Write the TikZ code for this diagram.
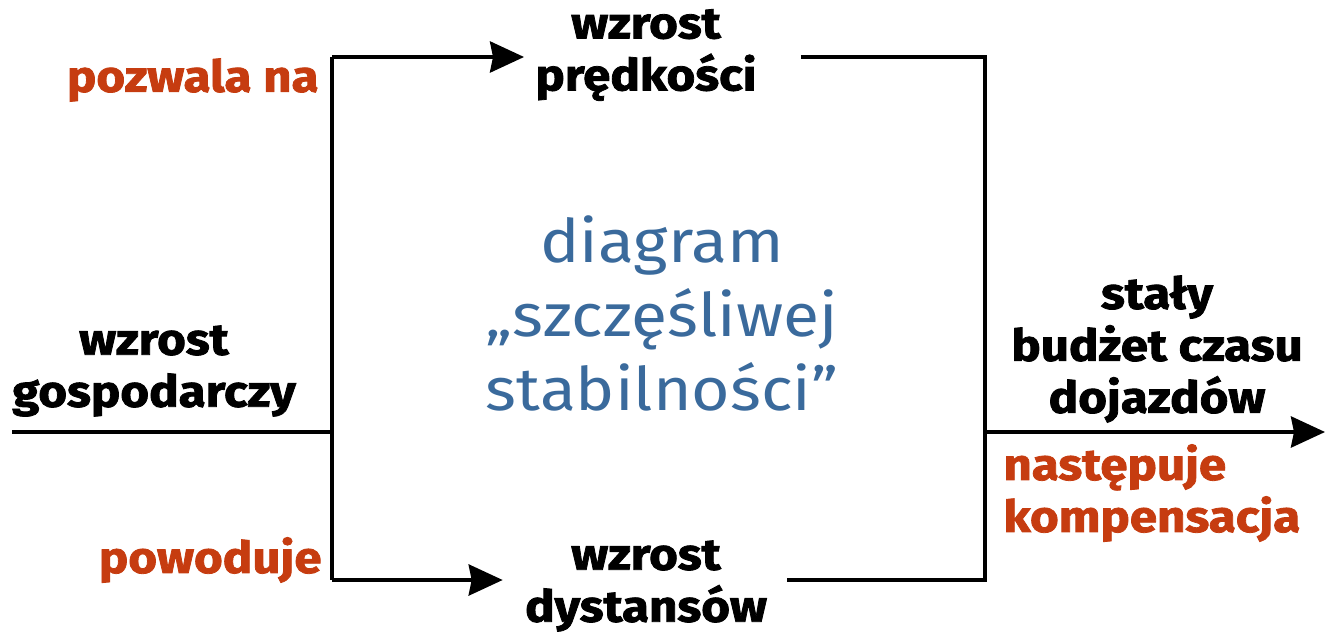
\documentclass[tikz,border=0pt]{standalone}
\usepackage{fontspec}
\setmainfont{Fira Sans}
\newfontfamily\heavy{Fira Sans}[BoldFeatures={FakeBold=1.8,FakeStretch=1.12}]
\newfontfamily\wide{Fira Sans}[FakeStretch=1.1]
\usetikzlibrary{arrows.meta}
\definecolor{orng}{HTML}{C63C10}
\definecolor{blu}{HTML}{3A6A9C}
\tikzset{
  lbl/.style={font=\heavy\bfseries\fontsize{22}{26}\selectfont, align=center, text=black, inner sep=0pt},
  olbl/.style={font=\heavy\bfseries\fontsize{22}{26}\selectfont, align=left, text=orng, inner sep=0pt},
  conn/.style={line width=2pt},
  arr/.style={line width=2pt, -{Stealth[length=17pt,width=15.5pt,inset=1.5pt]}},
}
\begin{document}
\begin{tikzpicture}[x=0.5pt,y=-0.5pt]
\useasboundingbox (0,0) rectangle (1325,631);
% text nodes
\node[lbl] (pred) at (646,55) {wzrost\\prędkości};
\node[lbl] (dyst) at (646,586) {wzrost\\dystansów};
\node[lbl] (gosp) at (154,371) {wzrost\\gospodarczy};
\node[lbl] (bud) at (1157,349) {stały\\budżet czasu\\dojazdów};
\node[olbl, anchor=east] (pozw) at (319,80) {pozwala na};
\node[olbl, anchor=east] (pow) at (322,560) {powoduje};
\node[olbl, anchor=west] (nast) at (1003,493) {następuje\\kompensacja};
\node[font=\wide\fontsize{30}{37}\selectfont, text=blu, align=center, inner sep=0pt] (diag) at (662,313) {diagram\\„szczęśliwej\\stabilności”};
% coordinates
\coordinate (inL) at (12,432);
\coordinate (jL) at (332,432);
\coordinate (tl) at (332,57);
\coordinate (bl) at (332,580);
\coordinate (tr) at (985,57);
\coordinate (br) at (985,580);
\coordinate (jR) at (985,432);
\coordinate (outR) at (1325,432);
% connectors
\draw[conn] (inL) -- (jL);
\draw[conn] (tl) -- (bl);
\draw[arr] (tl) -- ([xshift=-5.5pt]tl -| pred.west);
\draw[arr] (bl) -- ([xshift=-11pt]bl -| dyst.west);
\draw[conn] ([xshift=22pt]tl -| pred.east) -- (tr) -- (br) -- ([xshift=10pt]bl -| dyst.east);
\draw[arr] (jR) -- (outR);
\end{tikzpicture}
\end{document}
